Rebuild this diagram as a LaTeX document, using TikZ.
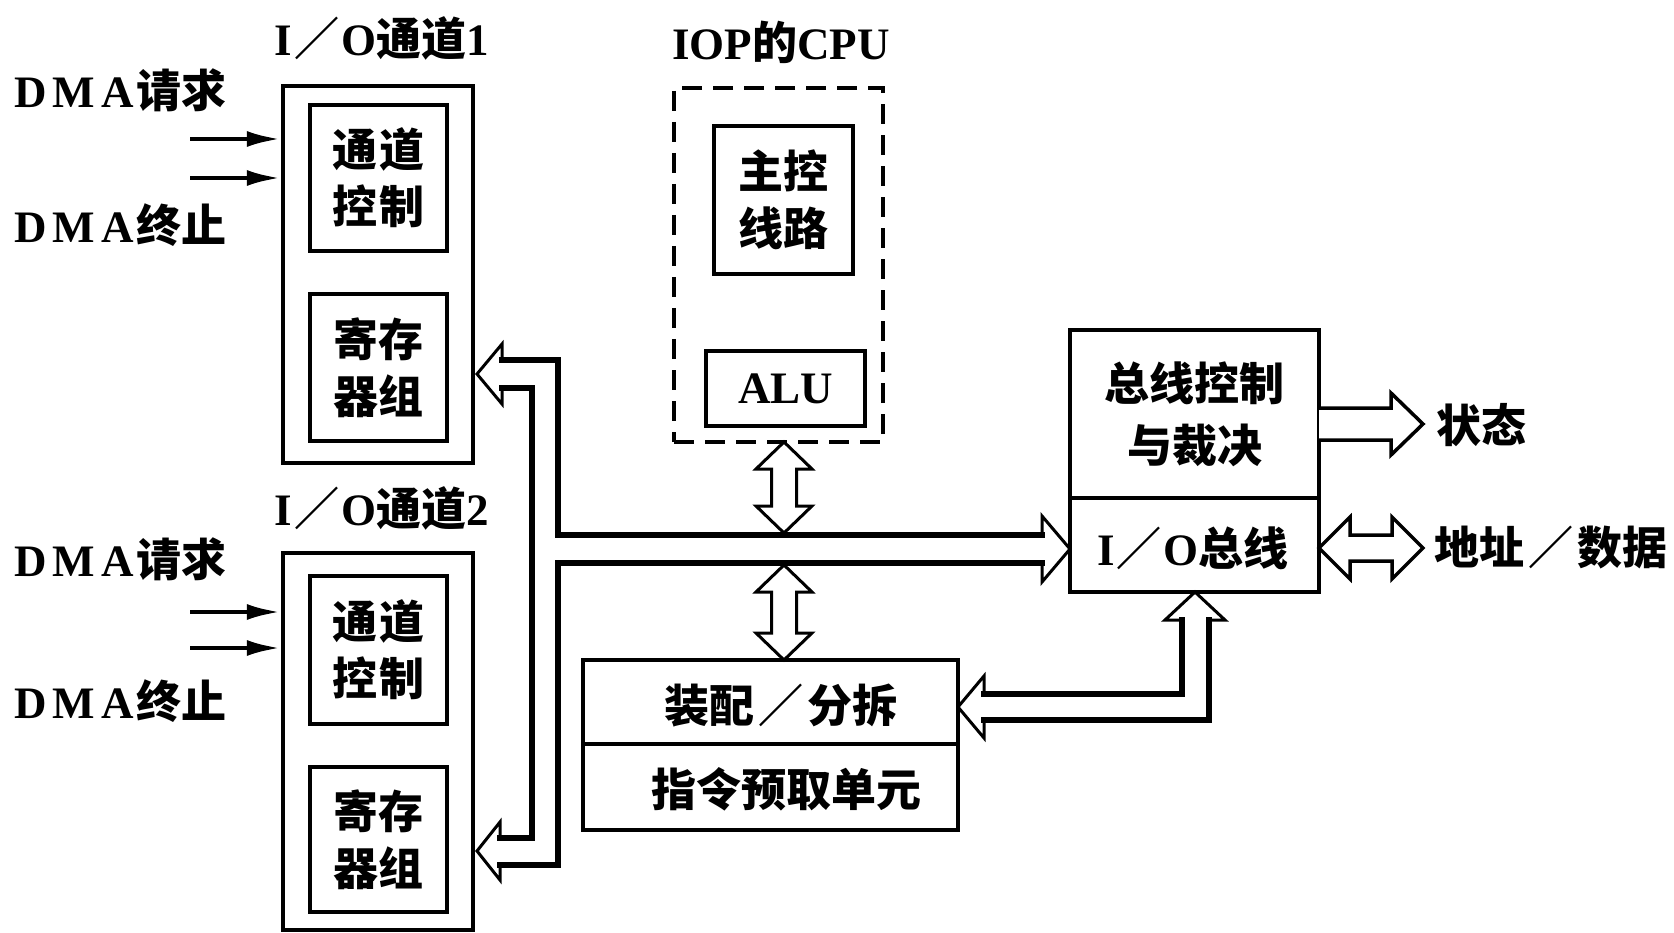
\documentclass[tikz,border=0pt]{standalone}
\usepackage{fontspec}
\setmainfont{Liberation Serif}
\newfontfamily\cjk{Noto Sans CJK SC}
\usetikzlibrary{arrows.meta}
\newcommand{\zh}[1]{{\cjk\bfseries #1}}
\newcommand{\dmaL}{D\kern6pt M\kern6pt A\kern3pt}
\newcommand{\vdarr}[3]{% x, top tip y, bottom tip y
  \draw[harrow] (#1,#2) -- (#1+28,#2+27) -- (#1+12.5,#2+27) -- (#1+12.5,#3-27) -- (#1+28,#3-27) -- (#1,#3)
    -- (#1-28,#3-27) -- (#1-12.5,#3-27) -- (#1-12.5,#2+27) -- (#1-28,#2+27) -- cycle;}
\begin{document}
\begin{tikzpicture}[x=1pt,y=-1pt,
  lbl/.style={font=\fontsize{45}{57}\selectfont\bfseries, align=center, inner sep=0pt},
  obox/.style={draw, line width=4.5pt, inner sep=0pt},
  ibox/.style={draw, line width=3.5pt, inner sep=0pt, font=\fontsize{45}{57}\selectfont\bfseries, align=center},
  dma/.style={line width=4.5pt, -{Latex[length=34pt,width=16pt]}},
  harrow/.style={draw, fill=white, line width=3pt, line join=miter},
  shaft/.style={line width=5.5pt, line join=miter, line cap=rect},
  dashbox/.style={draw, line width=4pt, dash pattern=on 20pt off 11pt, inner sep=0pt}
]
\useasboundingbox (0,0) rectangle (1674,933);

% ---------- channel 1 ----------
\node[lbl] (lab1) at (382,38) {I\kern2pt\zh{／}\kern2pt O\zh{通道}1};
\node[obox, minimum width=190pt, minimum height=377pt] (ch1) at (378,274.5) {};
\node[ibox, minimum width=137pt, minimum height=146pt] (ch1c) at (378.5,178) {\zh{通\kern3pt 道}\\\zh{控\kern3pt 制}};
\node[ibox, minimum width=137pt, minimum height=147pt] (ch1r) at (378.5,367.5) {\zh{寄存}\\\zh{器组}};
\node[lbl, anchor=west] (req1) at (14,90) {\dmaL\zh{请求}};
\node[lbl, anchor=west] (end1) at (14,225) {\dmaL\zh{终止}};
\coordinate (r1) at (190,139);
\coordinate (e1) at (190,178);
\draw[dma] (r1) -- (r1 -| ch1.west);
\draw[dma] (e1) -- (e1 -| ch1.west);

% ---------- channel 2 ----------
\node[lbl] (lab2) at (382,508) {I\kern2pt\zh{／}\kern2pt O\zh{通道}2};
\node[obox, minimum width=190pt, minimum height=377pt] (ch2) at (378,741.5) {};
\node[ibox, minimum width=137pt, minimum height=148pt] (ch2c) at (378.5,650) {\zh{通\kern3pt 道}\\\zh{控\kern3pt 制}};
\node[ibox, minimum width=137pt, minimum height=145pt] (ch2r) at (378.5,839.5) {\zh{寄存}\\\zh{器组}};
\node[lbl, anchor=west] (req2) at (14,559) {\dmaL\zh{请求}};
\node[lbl, anchor=west] (end2) at (14,701) {\dmaL\zh{终止}};
\coordinate (r2) at (190,612);
\coordinate (e2) at (190,648);
\draw[dma] (r2) -- (r2 -| ch2.west);
\draw[dma] (e2) -- (e2 -| ch2.west);

% ---------- IOP CPU ----------
\node[lbl] (labcpu) at (781,42) {IOP\zh{的}CPU};
\node[dashbox, minimum width=209pt, minimum height=354pt] (cpu) at (778.5,265) {};
\node[ibox, line width=4.5pt, minimum width=139pt, minimum height=148pt] (mctl) at (783.5,200) {\zh{主控}\\\zh{线路}};
\node[ibox, minimum width=159pt, minimum height=75pt] (alu) at (785.5,388.5) {ALU};

% ---------- assembly / fetch ----------
\node[ibox, minimum width=375pt, minimum height=84pt] (asm) at (770.5,702) {};
\node[ibox, minimum width=375pt, minimum height=86pt] (fetch) at (770.5,787) {};
\node[lbl] (asmt) at (781,706) {\zh{装配\kern4pt／\kern4pt 分拆}};
\node[lbl] (fetcht) at (786,789) {\zh{指令预取单元}};

% ---------- bus control ----------
\node[ibox, font=\fontsize{45}{62}\selectfont, minimum width=249pt, minimum height=168pt] (bctl) at (1194.5,414) {\zh{总线控制}\\\zh{与裁决}};
\node[ibox, minimum width=249pt, minimum height=94pt] (iob) at (1194.5,545) {};
\node[lbl] (iobt) at (1193,548) {I\kern2pt\zh{／}\kern2pt O\zh{总线}};
\node[lbl, anchor=west] (stat) at (1436,425) {\zh{状态}};
\node[lbl, anchor=west] (addr) at (1434,548) {\zh{地址\kern4pt／\kern4pt 数据}};

% ---------- left bus (channels <-> I/O bus) ----------
\draw[harrow] (502,360) -- (558,360) -- (558,535) -- (1042,535) -- (1042,516) -- (1070,549) -- (1042,582)
  -- (1042,563) -- (558,563) -- (558,865) -- (500,865) -- (500,880) -- (477,851) -- (500,822) -- (500,838)
  -- (532,838) -- (532,388) -- (502,388) -- (502,404) -- (477,374) -- (502,344) -- cycle;
\draw[shaft] (502,360) -- (558,360) -- (558,535) -- (1042,535);
\draw[shaft] (1042,563) -- (558,563) -- (558,865) -- (500,865);
\draw[shaft] (500,838) -- (532,838) -- (532,388) -- (502,388);

% ---------- I/O bus <-> assembly ----------
\draw[harrow] (1195,592) -- (1225,620) -- (1209,620) -- (1209,720) -- (984,720) -- (984,738) -- (958,707)
  -- (984,676) -- (984,694) -- (1182,694) -- (1182,620) -- (1165,620) -- cycle;
\draw[shaft] (1209,620) -- (1209,720) -- (984,720);
\draw[shaft] (984,694) -- (1182,694) -- (1182,620);

% ---------- CPU <-> bus, bus <-> assembly ----------
\vdarr{784}{442}{533}
\vdarr{784}{565}{660}

% ---------- status, address/data ----------
\draw[harrow, line width=3.5pt] (1319,408) -- (1391,408) -- (1391,393) -- (1423,424) -- (1391,455) -- (1391,440) -- (1319,440);
\draw[harrow, line width=3.5pt] (1319,548) -- (1350,517) -- (1350,535) -- (1392,535) -- (1392,517) -- (1423,548)
  -- (1392,579) -- (1392,561) -- (1350,561) -- (1350,579) -- cycle;
\end{tikzpicture}
\end{document}
